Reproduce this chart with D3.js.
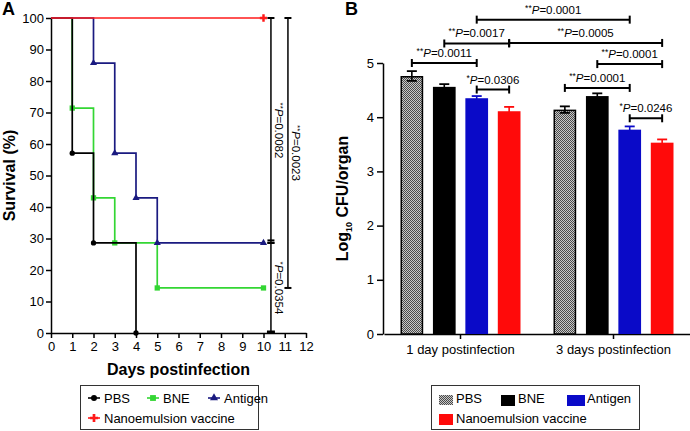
<!DOCTYPE html>
<html><head><meta charset="utf-8">
<script src="https://cdn.jsdelivr.net/npm/d3@7"></script>
<style>body{margin:0;background:#fff}svg{display:block;font-family:"Liberation Sans",Arial,sans-serif}</style>
</head><body><svg id="c" width="690" height="431"></svg>
<script>
// ---------- DATA: Panel A (survival) ----------
const dayTicks = d3.range(0, 13);
const survTicks = d3.range(0, 101, 10);
const survNames = ["PBS", "BNE", "Antigen", "Nanoemulsion vaccine"];
const pbsDays = [0, 1, 2, 4];
const pbsSurv = [100, 57.1, 28.6, 0];
const bneDays = [0, 1, 2, 3, 5, 10];
const bneSurv = [100, 71.4, 42.9, 28.6, 14.3, 14.3];
const antigenDays = [0, 2, 3, 4, 5, 10];
const antigenSurv = [100, 85.7, 57.1, 42.9, 28.6, 28.6];
const nanoDays = [0, 10];
const nanoSurv = [100, 100];
// significance brackets panel A: day position, from %, to %, stars, p
const sigADay = [10.35, 10.35, 11.15];
const sigAFrom = [100, 28.6, 100];
const sigATo = [28.6, 0, 14.3];
const sigAStars = ["**", "*", "**"];
const sigAP = ["P=0.0082", "P=0.0354", "P=0.0023"];

// ---------- DATA: Panel B (CFU) ----------
const groups = ["1 day postinfection", "3 days postinfection"];
const barNames = ["PBS", "BNE", "Antigen", "Nanoemulsion vaccine"];
const cfuDay1 = [4.76, 4.56, 4.35, 4.11];
const cfuDay3 = [4.14, 4.39, 3.77, 3.53];
const errDay1 = [0.09, 0.05, 0.04, 0.08];
const errDay3 = [0.06, 0.05, 0.06, 0.06];
const cfuTicks = [0, 1, 2, 3, 4, 5];
// brackets panel B: [group, series] start & end, level (log units), stars, p
const brFrom = [[0,0],[0,2],[0,1],[0,2],[0,3],[1,1],[1,0],[1,2]];
const brTo   = [[0,2],[0,3],[0,3],[1,2],[1,3],[1,3],[1,2],[1,3]];
const brLevel = [5.0, 4.51, 5.36, 5.80, 5.37, 4.98, 4.54, 3.98];
const brStars = ["**","*","**","**","**","**","**","*"];
const brP = ["P=0.0011","P=0.0306","P=0.0017","P=0.0001","P=0.0005","P=0.0001","P=0.0001","P=0.0246"];

const survColors = ["#000000", "#33d633", "#1a1a80", "#ff1a1a"];
const barColors = [null, "#000000", "#0a0ac8", "#ff0a0a"];

const svg = d3.select("#c");
const defs = svg.append("defs");
const pat = defs.append("pattern").attr("id","chk").attr("patternUnits","userSpaceOnUse")
  .attr("width",2).attr("height",2);
pat.append("rect").attr("width",2).attr("height",2).attr("fill","#c8c8c8");
pat.append("rect").attr("width",1).attr("height",1).attr("fill","#4a4a4a");
pat.append("rect").attr("x",1).attr("y",1).attr("width",1).attr("height",1).attr("fill","#4a4a4a");

// ================= PANEL A =================
const xA = d3.scaleLinear().domain([0, 12]).range([51, 306]);
const yA = d3.scaleLinear().domain([0, 100]).range([333, 18]);

const gA = svg.append("g");
gA.append("g").attr("transform", `translate(0,${yA(0)})`)
  .call(d3.axisBottom(xA).tickValues(dayTicks).tickFormat(d3.format("d")).tickSize(5).tickSizeOuter(0).tickPadding(4))
  .call(g => g.selectAll("text").attr("font-size", 13).attr("fill","#000").attr("font-family","Liberation Sans, Arial"))
  .call(g => g.selectAll("line,path").attr("stroke-width", 1.5));
gA.append("g").attr("transform", `translate(${xA(0)},0)`)
  .call(d3.axisLeft(yA).tickValues(survTicks).tickFormat(d3.format("d")).tickSize(5).tickSizeOuter(0).tickPadding(2))
  .call(g => g.selectAll("text").attr("font-size", 13).attr("fill","#000").attr("font-family","Liberation Sans, Arial"))
  .call(g => g.selectAll("line,path").attr("stroke-width", 1.5));

gA.append("text").attr("x", xA(6)).attr("y", 375).attr("text-anchor","middle")
  .attr("font-size",16).attr("font-weight","bold").text("Days postinfection");
gA.append("text").attr("transform",`translate(15,${(yA(0)+yA(100))/2}) rotate(-90)`).attr("text-anchor","middle")
  .attr("font-size",16).attr("font-weight","bold").text("Survival (%)");
svg.append("text").attr("x",2).attr("y",15).attr("font-size",18).attr("font-weight","bold").text("A");

const seriesA = [
  {days: pbsDays, surv: pbsSurv, sym: d3.symbolCircle, size: 22},
  {days: bneDays, surv: bneSurv, sym: d3.symbolSquare, size: 28},
  {days: antigenDays, surv: antigenSurv, sym: d3.symbolTriangle, size: 22},
  {days: nanoDays, surv: nanoSurv, sym: d3.symbolCross, size: 30}
];
const lineA = d3.line().x(d => xA(d[0])).y(d => yA(d[1])).curve(d3.curveStepAfter);
const drawOrder = [1, 0, 2, 3];
drawOrder.forEach(i => {
  const s = seriesA[i];
  const pts = s.days.map((d, j) => [d, s.surv[j]]);
  gA.append("path").attr("d", lineA(pts)).attr("fill","none")
    .attr("stroke", survColors[i]).attr("stroke-width", 1.7);
  gA.selectAll(null).data(pts.slice(1)).enter().append("path")
    .attr("transform", d => `translate(${xA(d[0])},${yA(d[1])})`)
    .attr("d", d3.symbol().type(s.sym).size(s.size)).attr("fill", survColors[i]);
});

// significance brackets A
sigADay.forEach((d, i) => {
  const x = xA(d), y1 = yA(sigAFrom[i]), y2 = yA(sigATo[i]);
  gA.append("line").attr("x1",x).attr("x2",x).attr("y1",y1).attr("y2",y2)
    .attr("stroke","#000").attr("stroke-width",1.5);
  [y1, y2].forEach(y => gA.append("line").attr("x1",x-3.5).attr("x2",x+3.5).attr("y1",y).attr("y2",y)
    .attr("stroke","#000").attr("stroke-width",2));
  const t = gA.append("text").attr("transform",`translate(${x+4},${(y1+y2)/2}) rotate(90)`)
    .attr("text-anchor","middle").attr("font-size",11.5);
  t.append("tspan").attr("font-size",8).attr("dy",-3).text(sigAStars[i]);
  t.append("tspan").attr("font-style","italic").attr("dy",3).text("P");
  t.append("tspan").text(sigAP[i].slice(1));
});
// bottom thick cap at 0 and double cap at 28.6
gA.append("line").attr("x1",xA(sigADay[1])-4).attr("x2",xA(sigADay[1])+4)
  .attr("y1",yA(0)-1).attr("y2",yA(0)-1).attr("stroke","#000").attr("stroke-width",3);
gA.append("line").attr("x1",xA(sigADay[0])-3.5).attr("x2",xA(sigADay[0])+3.5)
  .attr("y1",yA(28.6)-2.5).attr("y2",yA(28.6)-2.5).attr("stroke","#000").attr("stroke-width",2);

// legend A
const legA = svg.append("g");
legA.append("rect").attr("x",80.5).attr("y",385.5).attr("width",178).attr("height",44)
  .attr("fill","#fff").attr("stroke","#333").attr("stroke-width",1);
const legAPos = [[94,398],[153,398],[214,398],[94,418]];
survNames.forEach((n, i) => {
  const [cx, cy] = legAPos[i];
  legA.append("line").attr("x1",cx-6).attr("x2",cx+6).attr("y1",cy).attr("y2",cy)
    .attr("stroke",survColors[i]).attr("stroke-width",1.6);
  legA.append("path").attr("transform",`translate(${cx},${cy})`)
    .attr("d", d3.symbol().type(seriesA[i].sym).size(seriesA[i].size+6)).attr("fill",survColors[i]);
  legA.append("text").attr("x",cx+10).attr("y",cy+5).attr("font-size",13).text(n);
});

// ================= PANEL B =================
const yB = d3.scaleLinear().domain([0, 5]).range([334, 63]);
const xB = d3.scaleBand().domain(groups).range([384, 690]);
const inner = d3.scaleBand().domain(barNames).range([-60, 60]).paddingInner(0.3);
const gB = svg.append("g");
const center = g => xB(g) + xB.bandwidth()/2;

gB.append("g").attr("transform",`translate(0,${yB(0)})`)
  .call(d3.axisBottom(xB).tickSize(5).tickSizeOuter(0).tickPadding(6))
  .call(g => g.selectAll("text").attr("font-size",13).attr("fill","#000").attr("font-family","Liberation Sans, Arial"))
  .call(g => g.selectAll("line,path").attr("stroke-width",1.5));
gB.append("g").attr("transform",`translate(383,0)`)
  .call(d3.axisLeft(yB).tickValues(cfuTicks).tickFormat(d3.format("d")).tickSize(6).tickSizeOuter(0).tickPadding(3))
  .call(g => g.selectAll("text").attr("font-size",13).attr("fill","#000").attr("font-family","Liberation Sans, Arial"))
  .call(g => g.selectAll("line,path").attr("stroke-width",1.5));

const yl = gB.append("text").attr("transform",`translate(348,${(yB(0)+yB(5))/2}) rotate(-90)`)
  .attr("text-anchor","middle").attr("font-size",16).attr("font-weight","bold");
yl.append("tspan").text("Log");
yl.append("tspan").attr("font-size",9).attr("dy",4).text("10");
yl.append("tspan").attr("dy",-4).text(" CFU/organ");
svg.append("text").attr("x",345).attr("y",15).attr("font-size",18).attr("font-weight","bold").text("B");

const vals = [cfuDay1, cfuDay3], errs = [errDay1, errDay3];
groups.forEach((g, gi) => {
  barNames.forEach((s, si) => {
    const x0 = center(g) + inner(s), w = inner.bandwidth(), v = vals[gi][si], e = errs[gi][si];
    const col = si === 0 ? "#000" : barColors[si];
    const cx = x0 + w/2;
    gB.append("line").attr("x1",cx).attr("x2",cx).attr("y1",yB(v+e)).attr("y2",yB(v-e))
      .attr("stroke",col).attr("stroke-width",1.6);
    [v+e, v-e].forEach(t => gB.append("line").attr("x1",cx-5).attr("x2",cx+5)
      .attr("y1",yB(t)).attr("y2",yB(t)).attr("stroke",col).attr("stroke-width",1.8));
    if (si === 0) {
      gB.append("rect").attr("x",x0+0.75).attr("y",yB(v)+0.75).attr("width",w-1.5).attr("height",yB(0)-yB(v)-0.75)
        .attr("fill","url(#chk)").attr("stroke","#000").attr("stroke-width",1.5);
      gB.append("line").attr("x1",cx).attr("x2",cx).attr("y1",yB(v)).attr("y2",yB(v-e))
        .attr("stroke","#000").attr("stroke-width",1.6);
      gB.append("line").attr("x1",cx-5).attr("x2",cx+5).attr("y1",yB(v-e)).attr("y2",yB(v-e))
        .attr("stroke","#000").attr("stroke-width",1.8);
    } else {
      gB.append("rect").attr("x",x0).attr("y",yB(v)).attr("width",w).attr("height",yB(0)-yB(v))
        .attr("fill",barColors[si]);
    }
  });
});

// brackets B
brFrom.forEach((f, i) => {
  const t = brTo[i];
  const x1 = center(groups[f[0]]) + inner(barNames[f[1]]) + inner.bandwidth()/2;
  const x2 = center(groups[t[0]]) + inner(barNames[t[1]]) + inner.bandwidth()/2;
  const y = yB(brLevel[i]);
  gB.append("line").attr("x1",x1).attr("x2",x2).attr("y1",y).attr("y2",y).attr("stroke","#000").attr("stroke-width",2);
  [x1, x2].forEach(x => gB.append("line").attr("x1",x).attr("x2",x).attr("y1",y-4).attr("y2",y+4)
    .attr("stroke","#000").attr("stroke-width",2));
  const tx = gB.append("text").attr("x",(x1+x2)/2).attr("y",y-6).attr("text-anchor","middle").attr("font-size",11.5);
  tx.append("tspan").attr("font-size",8.5).attr("dy",-3).text(brStars[i]);
  tx.append("tspan").attr("font-style","italic").attr("dy",3).text("P");
  tx.append("tspan").text(brP[i].slice(1));
});

// legend B
const legB = svg.append("g");
legB.append("rect").attr("x",431.5).attr("y",385.5).attr("width",208).attr("height",44)
  .attr("fill","#fff").attr("stroke","#333").attr("stroke-width",1);
const legBPos = [[439,395],[501,395],[567,395],[439,414]];
barNames.forEach((n, i) => {
  const [x, y] = legBPos[i];
  legB.append("rect").attr("x",x).attr("y",y).attr("width",i===2?18:14).attr("height",i===0?10:11)
    .attr("fill", i === 0 ? "url(#chk)" : barColors[i]);
  legB.append("text").attr("x",x+(i===2?20:17)).attr("y",y+8+(i===3?1:0)).attr("font-size",13).text(n);
});
</script></body></html>
